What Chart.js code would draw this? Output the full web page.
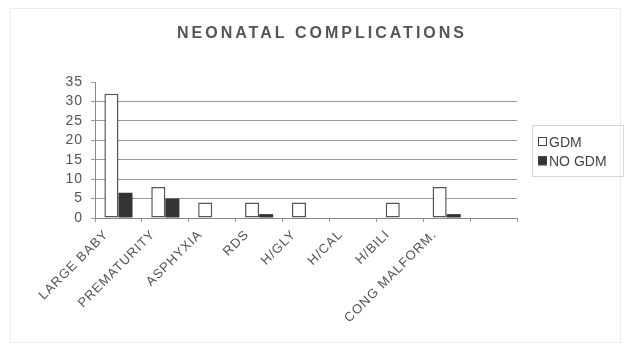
<!DOCTYPE html>
<html>
<head>
<meta charset="utf-8">
<script src="https://cdn.jsdelivr.net/npm/chart.js@4.4.1/dist/chart.umd.min.js"></script>
<style>
  html, body { margin: 0; padding: 0; background: #fff; }
  #wrap { width: 629px; height: 351px; }
</style>
</head>
<body>
<div id="wrap"><canvas id="compChart"></canvas></div>
<script>
const titleText = "NEONATAL COMPLICATIONS";
const categories = ["LARGE BABY", "PREMATURITY", "ASPHYXIA", "RDS", "H/GLY", "H/CAL", "H/BILI", "CONG MALFORM.", ""];
const gdmValues = [32, 8, 4, 4, 4, 0, 4, 8, null];
const noGdmValues = [6.5, 5, 0, 1, 0, 0, 0, 1, null];
const yTicks = [0, 5, 10, 15, 20, 25, 30, 35];

// letter spacing for the axis labels, like the scanned original
const spacing = {
  id: "spacing",
  beforeDraw(chart) { chart.ctx.letterSpacing = "1px"; },
  beforeDatasetsDraw(chart) { chart.ctx.letterSpacing = "0px"; },
};

// title, faint frame, boxed legend
const decorations = {
  id: "decorations",
  afterDraw(chart) {
    const ctx = chart.ctx;
    ctx.save();
    ctx.strokeStyle = "#ececec";
    ctx.lineWidth = 1;
    ctx.strokeRect(10.5, 8.5, 610, 334);

    ctx.fillStyle = "#555";
    ctx.font = "bold 16px 'Liberation Sans', Arial, sans-serif";
    ctx.letterSpacing = "3px";
    ctx.textAlign = "center";
    ctx.textBaseline = "middle";
    ctx.fillText(titleText, 322, 34);
    ctx.letterSpacing = "0px";

    // legend
    ctx.strokeStyle = "#d8d8d8";
    ctx.strokeRect(532.5, 125.5, 91, 51);
    ctx.font = "14px 'Liberation Sans', Arial, sans-serif";
    ctx.textAlign = "left";
    chart.data.datasets.forEach((ds, i) => {
      const y = 142 + i * 19;
      ctx.fillStyle = ds.backgroundColor;
      ctx.fillRect(538, y - 4.5, 9, 9);
      ctx.strokeStyle = "#444";
      ctx.strokeRect(538.5, y - 4.5, 8, 8);
      ctx.fillStyle = "#444";
      ctx.fillText(ds.label, 549, y + 1);
    });
    ctx.restore();
  }
};

const data = {
  labels: categories,
  datasets: [
    {
      label: "GDM",
      data: gdmValues,
      backgroundColor: "#ffffff",
      borderColor: "#555",
      borderWidth: (c) => (c.raw ? 1.5 : 0),
      borderSkipped: false,
      barPercentage: 1,
      categoryPercentage: 0.6,
    },
    {
      label: "NO GDM",
      data: noGdmValues,
      backgroundColor: "#333333",
      borderColor: "#333",
      borderWidth: 0,
      barPercentage: 1,
      categoryPercentage: 0.6,
    },
  ],
};

const config = {
  type: "bar",
  data: data,
  options: {
    responsive: true,
    maintainAspectRatio: false,
    animation: false,
    layout: { padding: { left: 15, right: 112, top: 82, bottom: 0 } },
    scales: {
      x: {
        grid: { drawOnChartArea: false, drawTicks: true, tickLength: 4, color: "#999" },
        border: { color: "#888", width: 1 },
        ticks: {
          color: "#555",
          font: { family: "'Liberation Sans', Arial, sans-serif", size: 13 },
          minRotation: 45,
          maxRotation: 45,
          autoSkip: false,
          labelOffset: -12,
          padding: 5,
        },
        afterFit(scale) { scale.height = 351 - 218; },
      },
      y: {
        min: 0,
        max: 35,
        afterBuildTicks(scale) { scale.ticks = yTicks.map((v) => ({ value: v })); },
        grid: {
          color: (c) => (c.tick && (c.tick.value === 35 || c.tick.value === 0) ? "rgba(0,0,0,0)" : "#9a9a9a"),
          tickColor: "#999",
          tickLength: 4,
        },
        border: { color: "#888", width: 1 },
        ticks: {
          color: "#555",
          font: { family: "'Liberation Sans', Arial, sans-serif", size: 14 },
          padding: 8,
          autoSkip: false,
        },
        afterFit(scale) { scale.width = 80; },
      },
    },
    plugins: {
      legend: { display: false },
      tooltip: { enabled: false },
    },
  },
  plugins: [spacing, decorations],
};

new Chart(document.getElementById("compChart"), config);
</script>
</body>
</html>
